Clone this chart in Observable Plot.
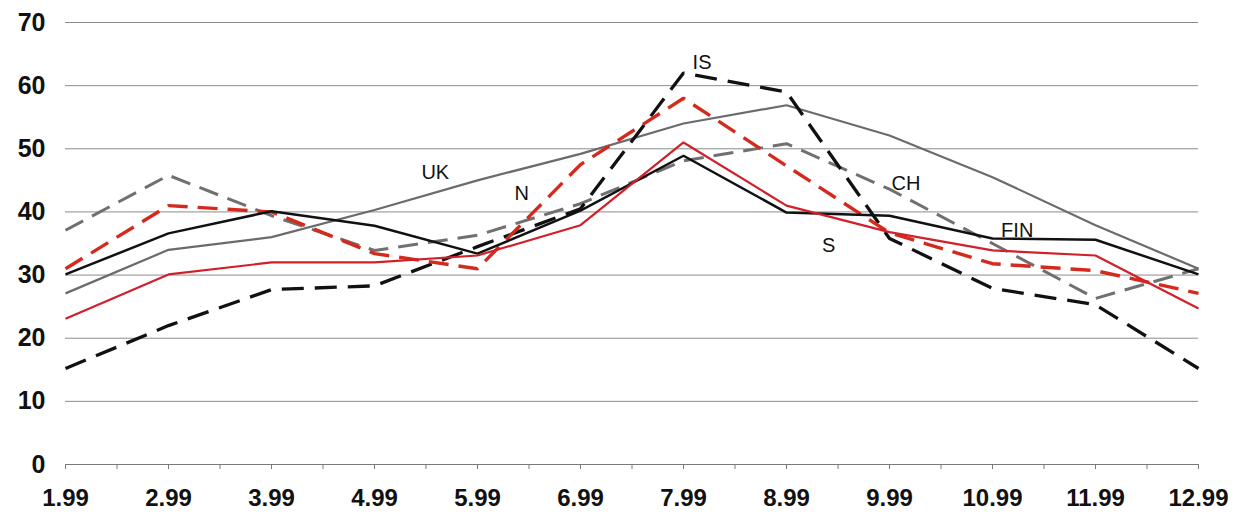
<!DOCTYPE html>
<html><head><meta charset="utf-8">
<script src="https://cdn.jsdelivr.net/npm/d3@7"></script>
<script src="https://cdn.jsdelivr.net/npm/@observablehq/plot@0.6"></script>
<style>
body{margin:0;background:#fff}
svg{display:block}
</style>
</head><body><div id="chart"></div>
<script>
const monthLabels = ["1.99","2.99","3.99","4.99","5.99","6.99","7.99","8.99","9.99","10.99","11.99","12.99"];
const yTicks = [0,10,20,30,40,50,60,70];
const UK  = [27.1, 34.0, 36.0, 40.3, 45.0, 49.2, 54.0, 56.9, 52.1, 45.5, 37.9, 31.0];
const N   = [31.0, 41.0, 40.0, 33.4, 31.0, 47.5, 58.0, 47.3, 36.7, 31.8, 30.7, 27.1];
const IS  = [15.2, 22.0, 27.7, 28.3, 34.5, 40.5, 62.0, 59.0, 35.8, 27.9, 25.3, 15.2];
const CH  = [37.1, 45.8, 39.4, 33.9, 36.3, 41.3, 48.1, 50.8, 43.6, 35.0, 26.3, 31.0];
const FIN = [30.1, 36.6, 40.1, 37.8, 33.4, 40.2, 48.9, 39.9, 39.4, 35.8, 35.6, 30.1];
const S   = [23.1, 30.1, 32.0, 32.0, 33.1, 37.9, 51.0, 41.0, 36.8, 33.9, 33.1, 24.7];
const seriesNames = ["UK","N","IS","CH","FIN","S"];
const labelX = [4.59, 5.43, 7.18, 9.16, 10.24, 8.41];
const labelY = [46.2, 42.9, 63.7, 44.5, 37.0, 34.7];

const values = {UK, N, IS, CH, FIN, S};
const styles = {
  UK:  {stroke:"#6b6b6b", strokeWidth:2.2, dash:null},
  CH:  {stroke:"#707070", strokeWidth:3,   dash:"20,10"},
  IS:  {stroke:"#111111", strokeWidth:3.3, dash:"22,11"},
  N:   {stroke:"#d42a1e", strokeWidth:3.4, dash:"20,10"},
  FIN: {stroke:"#111111", strokeWidth:2.5, dash:null},
  S:   {stroke:"#d0202a", strokeWidth:2.2, dash:null}
};
const drawOrder = ["UK","CH","IS","N","FIN","S"];

const table = [];
for (const s of seriesNames) values[s].forEach((v,i)=>table.push({series:s, m:i+1, v}));
const labels = seriesNames.map((s,i)=>({name:s, x:labelX[i], y:labelY[i]}));
const halfMonths = d3.range(1, 12.01, 0.5);

const lineMarks = drawOrder.map(s => Plot.line(table.filter(d=>d.series===s), {
  x:"m", y:"v", stroke: styles[s].stroke, strokeWidth: styles[s].strokeWidth,
  strokeDasharray: styles[s].dash, strokeLinejoin:"miter", strokeLinecap:"butt"
}));

const chart = Plot.plot({
  width: 1241, height: 516,
  marginLeft: 65, marginRight: 43, marginTop: 22, marginBottom: 52,
  style: {fontFamily: "'Liberation Sans', Arial, sans-serif", background: "#fff"},
  x: {domain:[1,12]},
  y: {domain:[0,70]},
  marks: [
    Plot.gridY(yTicks.filter(d=>d>0), {stroke:"#8c8c8c", strokeOpacity:1, strokeWidth:1}),
    Plot.ruleY([0], {stroke:"#7a7a7a", strokeWidth:1.2}),
    Plot.axisX({ticks: halfMonths, tickSize: 5, tickPadding: 19, stroke:"#7a7a7a",
      tickFormat: d => Number.isInteger(d) ? monthLabels[d-1] : "",
      fontSize: 24, fontWeight: "bold", fill:"#111", label: null}),
    Plot.axisY({ticks: yTicks, tickSize: 0, tickPadding: 20, tickFormat: d=>String(d),
      fontSize: 25, fontWeight: "bold", fill:"#111", label: null}),
    ...lineMarks,
    Plot.text(labels, {x:"x", y:"y", text:"name", fontSize: 20, fill:"#111", textAnchor:"middle"})
  ]
});
document.getElementById("chart").appendChild(chart);
</script>
</body></html>
